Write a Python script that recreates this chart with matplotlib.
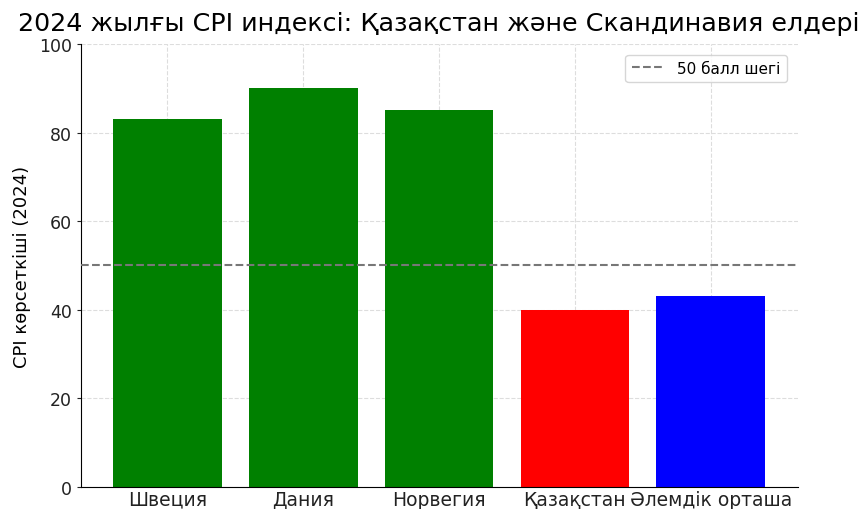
import matplotlib
matplotlib.use("Agg")
import matplotlib.pyplot as plt

countries = ["Швеция", "Дания", "Норвегия", "Қазақстан", "Әлемдік орташа"]
cpi_2024 = [83, 90, 85, 40, 43]
bar_colors = ["green", "green", "green", "red", "blue"]
threshold = 50

plt.rcParams['font.family'] = ['DejaVu Sans']

fig, ax = plt.subplots(figsize=(8.66, 5.10), dpi=100)
fig.subplots_adjust(left=0.093, right=0.921, top=0.912, bottom=0.043)

ax.bar(countries, cpi_2024, color=bar_colors, width=0.8, zorder=2)
ax.axhline(threshold, color="#777777", linestyle="--", linewidth=1.5,
           label="50 балл шегі", zorder=3)

ax.set_ylim(0, 100)
ax.set_ylabel("CPI көрсеткіші (2024)", fontsize=13, labelpad=6)
ax.set_title("2024 жылғы CPI индексі: Қазақстан және Скандинавия елдері",
             fontsize=18.3, pad=10)
ax.tick_params(axis='y', labelsize=12.5, colors='#222222', length=3, pad=3)
ax.tick_params(axis='x', labelsize=13.5, colors='#222222', length=0, pad=2)
ax.grid(True, linestyle='--', color='#dddddd', linewidth=0.8, zorder=0)
for side in ("top", "right"):
    ax.spines[side].set_visible(False)
ax.legend(loc="upper right", fontsize=11, handlelength=2.2, borderaxespad=0.7)

fig.savefig("out.png", dpi=100)
